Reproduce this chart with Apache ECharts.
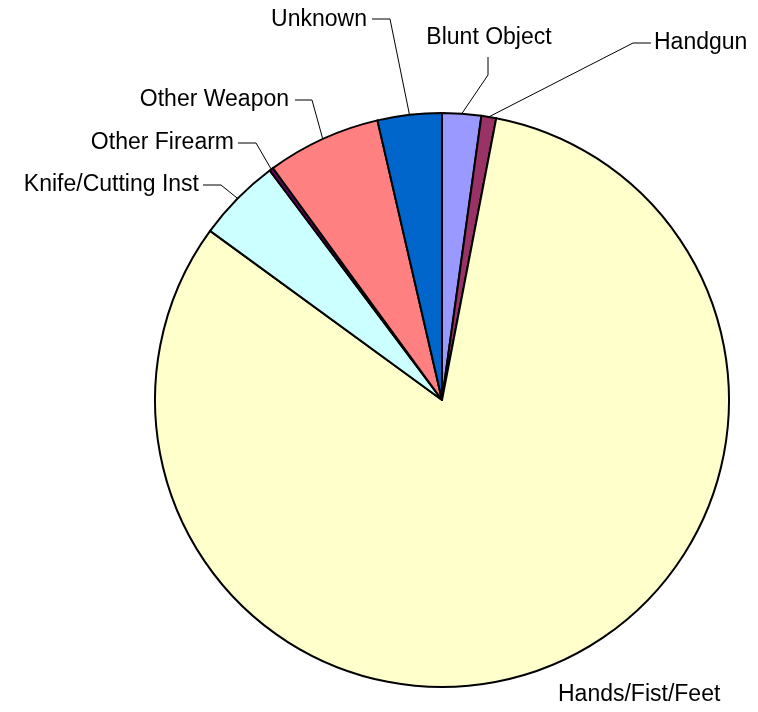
<!DOCTYPE html>
<html>
<head>
<meta charset="utf-8">
<script src="https://cdn.jsdelivr.net/npm/echarts@6/dist/echarts.min.js"></script>
<style>
  html, body { margin: 0; padding: 0; background: #fff; }
  #main { width: 758px; height: 712px; }
</style>
</head>
<body>
<div id="main"></div>
<script>
    // weapon categories, clockwise from 12 o'clock
    var categories = ['Blunt Object', 'Handgun', 'Hands/Fist/Feet', 'Knife/Cutting Inst',
        'Other Firearm', 'Other Weapon', 'Unknown'];
    var counts = [79, 30, 2952, 170, 8, 231, 130];
    var colors = ['#9999FF', '#993366', '#FFFFCC', '#CCFFFF', '#660066', '#FF8080', '#0066CC'];

    // where each label sits: [x, y, align]
    var labelSpots = [
        [489, 38, 'center'],
        [654, 43, 'left'],
        [558, 695, 'left'],
        [199, 185, 'right'],
        [234, 143, 'right'],
        [289, 100, 'right'],
        [367, 20, 'right']
    ];
    // leader line bend and end point per label (null = no leader)
    var leaders = [
        [[488, 75], [488, 57]],
        [[633, 43], [651, 43]],
        null,
        [[221, 185], [203, 185]],
        [[256, 143], [238, 143]],
        [[312, 100], [295, 100]],
        [[390, 19], [372, 19]]
    ];

    var myChart = echarts.init(document.getElementById('main'));

    var data = categories.map(function(name, i){
        return {
            name: name,
            value: counts[i],
            itemStyle: { color: colors[i] },
            labelLine: { show: leaders[i] !== null }
        };
    });

    var option = {
        backgroundColor: '#ffffff',
        animation: false,
        series: [
            {
                type: 'pie',
                center: [442, 400],
                radius: 287,
                startAngle: 90,
                clockwise: true,
                avoidLabelOverlap: false,
                data: data,
                itemStyle: {
                    borderColor: '#000',
                    borderWidth: 2
                },
                label: {
                    show: true,
                    position: 'outside',
                    formatter: '{b}',
                    color: '#000',
                    fontFamily: 'Liberation Sans, Arial, sans-serif',
                    fontSize: 23
                },
                labelLine: {
                    show: true,
                    length: 20,
                    length2: 15,
                    smooth: false,
                    lineStyle: { color: '#000', width: 1 }
                },
                emphasis: { disabled: true },
                labelLayout: function(params){
                    var i = params.dataIndex;
                    var spot = labelSpots[i];
                    var out = {
                        x: spot[0],
                        y: spot[1],
                        align: spot[2],
                        verticalAlign: 'middle'
                    };
                    if (leaders[i] && params.labelLinePoints) {
                        out.labelLinePoints = [
                            params.labelLinePoints[0],
                            leaders[i][0],
                            leaders[i][1]
                        ];
                    }
                    return out;
                }
            }
        ]
    };
    myChart.setOption(option);
</script>
</body>
</html>
